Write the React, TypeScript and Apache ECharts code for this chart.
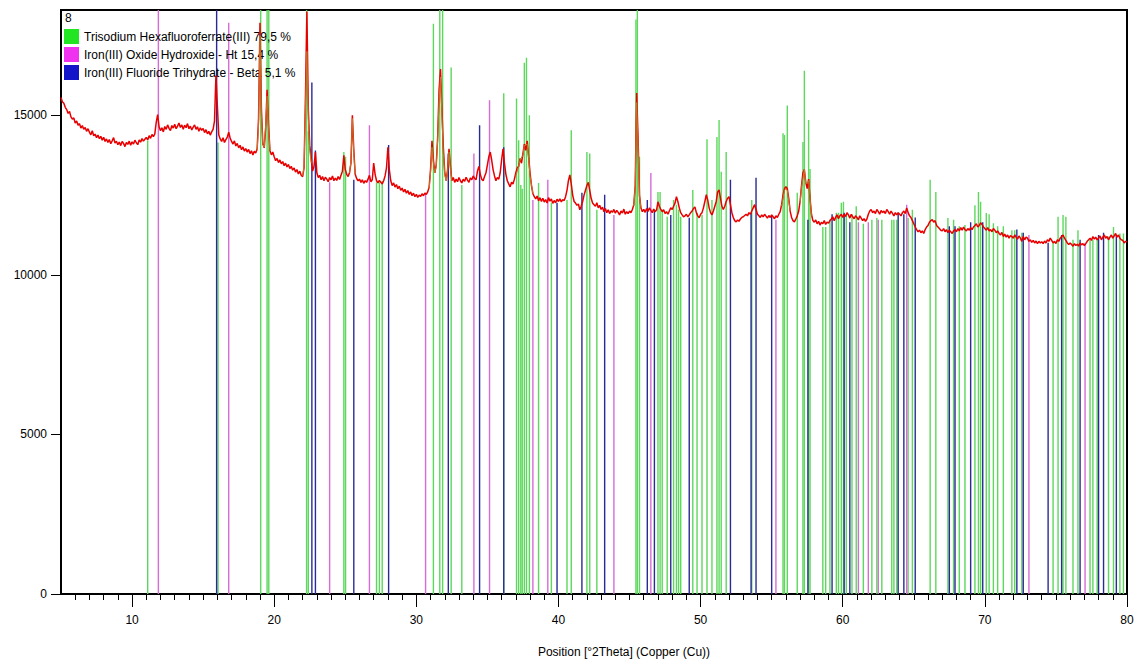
import React, { useEffect, useRef } from "react";
import * as echarts from "echarts";

// ---------- Data ----------
// Observed scan: 5.0 .. 80.0 °2Theta, step 0.1
const scanStart = 5;
const scanStep = 0.1;
const observedCounts: number[] = [
  // 5
  15560, 15420, 15380, 15250, 15180, 15060, 15120, 14950, 14880, 14920,
  // 6
  14760, 14820, 14690, 14740, 14600, 14680, 14560, 14620, 14500, 14580,
  // 7
  14470, 14390, 14520, 14360, 14410, 14300, 14380, 14270, 14340, 14220,
  // 8
  14310, 14180, 14260, 14150, 14240, 14110, 14200, 14300, 14130, 14190,
  // 9
  14080, 14160, 14050, 14180, 14120, 14020, 14150, 14090, 14190, 14060,
  // 10
  14170, 14100, 14220, 14140, 14080, 14230, 14160, 14270, 14190, 14250,
  // 11
  14310, 14230, 14360, 14280, 14400, 14330, 14420, 14780, 15020, 14640,
  // 12
  14520, 14610, 14480, 14650, 14560, 14700, 14590, 14520, 14680, 14600,
  // 13
  14720, 14580, 14660, 14760, 14620, 14700, 14560, 14690, 14610, 14740,
  // 14
  14580, 14660, 14540, 14630, 14700, 14560, 14640, 14500, 14610, 14530,
  // 15
  14590, 14460, 14550, 14420, 14500, 14380, 14480, 14560, 14820, 16250,
  // 16
  15300, 14380, 14260, 14180, 14300, 14150, 14240, 14320, 14470, 14290,
  // 17
  14180, 14100, 14200, 14040, 14120, 13980, 14060, 13920, 14010, 13880,
  // 18
  13960, 13850, 13930, 13800, 13890, 13760, 13870, 13820, 13950, 14900,
  // 19
  17900, 15200, 14100, 13980, 14600, 15800, 14700, 13900, 13760, 13850,
  // 20
  13700, 13580, 13650, 13520, 13600, 13480, 13550, 13420, 13500, 13380,
  // 21
  13460, 13330, 13400, 13280, 13350, 13220, 13300, 13160, 13250, 13120,
  // 22
  13080, 13350, 15600, 18250, 15200, 14050, 13700, 13250, 13400, 13850,
  // 23
  13200, 13050, 13120, 12980, 13080, 12950, 13060, 13000, 12920, 13050,
  // 24
  12980, 13100, 12950, 13030, 12960, 13080, 12990, 13120, 13250, 13750,
  // 25
  13300, 13150, 13080, 13200, 13500, 15000, 13900, 13150, 13020, 12950,
  // 26
  13000, 12900, 12980, 12870, 12950, 12900, 13000, 13120, 12920, 12980,
  // 27
  13500, 13150, 12950, 12880, 12960, 12900, 12850, 12950, 13100, 13350,
  // 28
  14000, 13300, 12950, 12800, 12880, 12750, 12830, 12700, 12780, 12650,
  // 29
  12720, 12600, 12680, 12560, 12640, 12520, 12600, 12480, 12560, 12450,
  // 30
  12520, 12430, 12500, 12460, 12540, 12480, 12560, 12520, 12600, 12750,
  // 31
  13300, 14200, 13600, 13200, 13450, 14300, 15800, 16450, 15200, 14000,
  // 32
  13200, 12950, 13300, 13950, 13400, 12950, 13050, 12900, 13000, 12920,
  // 33
  13050, 12950, 12880, 13000, 12930, 13060, 12970, 12900, 13040, 12980,
  // 34
  13100, 13020, 12980, 13250, 13400, 13150, 13000, 12950, 13080, 13200,
  // 35
  13450, 13700, 13850, 13600, 13300, 13100, 12950, 13050, 13000, 13200,
  // 36
  13600, 13950, 13500, 13150, 12950, 12850, 12760, 12900, 12850, 13000,
  // 37
  13200, 13350, 13400, 13650, 13500, 13800, 14100, 13900, 14200, 13700,
  // 38
  13200, 12800, 12550, 12450, 12380, 12470, 12320, 12420, 12300, 12400,
  // 39
  12280, 12360, 12250, 12420, 12310, 12380, 12240, 12330, 12260, 12370,
  // 40
  12300, 12380, 12290, 12360, 12330, 12450, 12650, 12950, 13130, 12850,
  // 41
  12500, 12300, 12250, 12180, 12220, 12040, 12150, 12300, 12500, 12650,
  // 42
  12800, 12900, 12650, 12400, 12250, 12200, 12150, 12260, 12100, 12180,
  // 43
  12050, 12120, 11980, 12080, 11950, 12040, 11920, 12010, 11960, 12050,
  // 44
  11930, 12020, 11960, 11880, 12000, 11940, 12060, 11900, 11980, 11920,
  // 45
  12000, 11950, 12050, 12200, 12800, 15700, 14300, 12500, 12100, 11980,
  // 46
  12050, 11960, 12080, 11990, 12100, 12020, 11950, 12060, 11980, 12030,
  // 47
  12290, 12150, 12050, 11980, 12040, 11920, 11980, 11900, 12000, 12100,
  // 48
  12050, 12150, 12250, 12450, 12300, 12100, 11950, 11880, 11820, 11850,
  // 49
  11900, 11820, 11880, 11950, 12000, 12080, 12130, 11950, 11850, 11790,
  // 50
  11900, 11950, 12100, 12300, 12510, 12350, 12100, 11950, 11880, 12000,
  // 51
  12150, 12300, 12600, 12660, 12400, 12150, 12050, 12150, 12300, 12400,
  // 52
  12450, 12200, 11950, 11800, 11700, 11660, 11720, 11680, 11750, 11800,
  // 53
  11820, 11860, 11900, 11850, 11950, 11900, 12000, 12100, 12200, 12050,
  // 54
  11900, 11850, 11800, 11880, 11820, 11900, 11840, 11780, 11860, 11800,
  // 55
  11880, 11820, 11760, 11850, 11800, 11900, 11980, 12200, 12500, 12700,
  // 56
  12760, 12700, 12400, 12000, 11800, 11700, 11660, 11750, 11850, 12000,
  // 57
  12300, 12800, 13200, 13300, 12900, 12700, 13000, 12400, 11900, 11700,
  // 58
  11650, 11720, 11600, 11680, 11560, 11650, 11600, 11700, 11580, 11650,
  // 59
  11620, 11700, 11750, 11820, 11700, 11800, 11880, 11760, 11850, 11900,
  // 60
  11800, 11900, 11830, 11950, 11880, 11780, 11900, 11820, 11760, 11850,
  // 61
  11800, 11720, 11850, 11780, 11700, 11760, 11680, 11750, 11900, 12000,
  // 62
  12050, 11950, 12000, 11920, 12050, 11980, 11900, 12020, 11950, 12000,
  // 63
  11920, 12050, 11980, 11900, 12000, 11930, 11850, 11950, 11880, 11950,
  // 64
  11900, 11850, 11950, 12000, 11920, 12100, 11950, 11850, 11800, 11700,
  // 65
  11600, 11500, 11420, 11350, 11400, 11320, 11380, 11300, 11420, 11500,
  // 66
  11550, 11650, 11700, 11730, 11650, 11700, 11550, 11500, 11450, 11400,
  // 67
  11380, 11450, 11350, 11420, 11320, 11400, 11350, 11300, 11380, 11420,
  // 68
  11350, 11450, 11380, 11480, 11400, 11500, 11420, 11380, 11450, 11400,
  // 69
  11480, 11420, 11500, 11550, 11600, 11500, 11550, 11630, 11580, 11500,
  // 70
  11450, 11400, 11480, 11380, 11420, 11350, 11450, 11400, 11320, 11380,
  // 71
  11300, 11250, 11330, 11200, 11280, 11180, 11250, 11150, 11230, 11200,
  // 72
  11150, 11250, 11180, 11120, 11220, 11150, 11050, 11200, 11100, 11180,
  // 73
  11150, 11050, 11100, 11020, 11080, 11000, 11060, 10980, 11050, 11000,
  // 74
  11040, 10980, 11060, 11000, 11100, 11050, 11150, 11080, 11000, 11050,
  // 75
  10980, 11100, 11050, 11150, 11200, 11250, 11150, 11080, 11000, 10950,
  // 76
  11000, 10950, 10900, 10980, 10920, 10960, 10900, 11000, 10940, 10980,
  // 77
  10920, 10980, 11050, 11100, 11150, 11080, 11200, 11120, 11180, 11100,
  // 78
  11150, 11220, 11100, 11180, 11250, 11150, 11200, 11100, 11180, 11250,
  // 79
  11150, 11220, 11300, 11180, 11250, 11150, 11100, 11080, 11000, 11050,
  // 80
  11040,
];

// Calculated profile near the strong peaks
const calcPeak19: number[][] = [[18.8, 13900], [18.9, 14700], [19.0, 17500], [19.1, 15000], [19.2, 14100], [19.3, 14000], [19.4, 14700], [19.5, 15600], [19.6, 14600], [19.7, 13900]];
const calcPeak22: number[][] = [[22.0, 13100], [22.1, 13400], [22.2, 15300], [22.3, 17000], [22.4, 14900], [22.5, 13900], [22.6, 13500]];
const calcPeak25: number[][] = [[25.3, 13200], [25.4, 13550], [25.5, 14900], [25.6, 13800], [25.7, 13150]];
const calcPeak31: number[][] = [[30.9, 12700], [31.0, 13200], [31.1, 14000], [31.2, 13500], [31.3, 13200], [31.4, 13400], [31.5, 14200], [31.6, 15500], [31.7, 16200], [31.8, 15000], [31.9, 13800], [32.0, 13150], [32.1, 12950], [32.2, 13250], [32.3, 13850], [32.4, 13300], [32.5, 12950]];
const calcPeak37: number[][] = [[37.0, 13100], [37.2, 13400], [37.3, 13600], [37.5, 13750], [37.6, 14050], [37.8, 14100], [37.9, 13650], [38.0, 13100], [38.2, 12550]];
const calcPeak45: number[][] = [[45.3, 12150], [45.4, 12750], [45.5, 15400], [45.6, 14100], [45.7, 12450], [45.8, 12100]];
const calcPeak56: number[][] = [[55.7, 12150], [55.9, 12650], [56.0, 12700], [56.1, 12650], [56.3, 12000]];
const calcPeak57: number[][] = [[57.0, 12250], [57.1, 12750], [57.3, 13300], [57.4, 12850], [57.6, 12950], [57.8, 11850]];

// Reference patterns: [position °2Theta, drawn height]
const trisodiumLines: number[][] = [
  [11.1, 14200], [16.05, 14150], [19.05, 18300], [19.5, 18300], [19.62, 18300],
  [22.28, 18300], [22.4, 14500], [24.9, 13850], [25.02, 13700],
  [27.2, 12900], [27.4, 12900], [27.6, 12950],
  [31.2, 17870], [31.65, 18300], [31.85, 18300], [32.45, 16500], [33.2, 12820],
  [36.15, 15690], [37.05, 15530], [37.2, 14220], [37.35, 12820], [37.45, 12700],
  [37.6, 16650], [37.75, 16800], [37.95, 15000],
  [38.6, 12880], [39.5, 12260], [40.6, 12350], [40.9, 14530], [42.0, 13850], [42.2, 13800], [42.7, 12040],
  [45.45, 18000], [45.55, 18300], [45.7, 13700],
  [47.0, 12600], [47.15, 12600], [47.3, 12040], [47.65, 11820], [48.1, 12350], [48.3, 12200], [48.45, 12050], [48.6, 11820],
  [49.45, 12660], [49.75, 11950], [50.1, 11880], [50.45, 14250], [50.8, 12350], [51.15, 14320], [51.3, 14850], [51.45, 13230], [51.8, 13850],
  [53.6, 12350],
  [55.8, 14440], [55.9, 14380], [56.1, 15310], [56.8, 12570], [57.2, 14160], [57.3, 16400], [57.6, 14850], [57.7, 13320],
  [58.6, 11500], [58.8, 11500], [59.1, 11730], [59.55, 11950], [59.7, 11950], [59.9, 12260], [60.05, 12290], [60.25, 11870],
  [60.65, 11900], [60.95, 12150], [61.45, 11600], [62.05, 11730], [62.4, 11780], [62.75, 11730], [63.45, 11730], [63.6, 11730],
  [63.8, 11730], [64.6, 11780], [64.9, 12040],
  [66.15, 12980], [66.55, 12600], [67.4, 11780], [67.8, 11730], [68.2, 11520], [68.6, 11560], [69.3, 12180], [69.55, 12600],
  [69.7, 12290], [70.1, 11940], [70.3, 11900], [70.6, 11620], [70.9, 11520], [71.3, 11520], [71.9, 11400], [72.1, 11400], [72.6, 11320],
  [74.8, 11010], [75.15, 11820], [75.5, 11880], [75.7, 11820], [76.2, 11100], [76.55, 11400], [77.4, 11100], [77.6, 11100],
  [77.9, 11100], [78.7, 11200], [79.05, 11500], [79.5, 11300], [79.75, 11300],
];

const oxideHydroxideLines: number[][] = [
  [11.85, 18300], [16.8, 17900], [23.9, 12900], [26.7, 14690], [30.65, 12570], [34.05, 13800], [35.15, 15470],
  [38.2, 12350], [39.25, 12980], [43.9, 11880], [46.5, 13190], [55.3, 11730], [61.1, 11650], [61.8, 11650],
  [62.5, 11730], [64.5, 12200], [73.1, 11250], [77.05, 11010],
];

const fluorideTrihydrateLines: number[][] = [
  [15.95, 18300], [22.65, 16030], [22.9, 13900], [25.6, 12980], [28.05, 14070], [32.25, 13800], [34.45, 14690],
  [36.15, 14000], [39.9, 12260], [41.65, 12570], [43.25, 12510], [46.25, 12350], [46.75, 12040], [47.9, 11880],
  [49.2, 11790], [52.1, 12980], [53.55, 11950], [53.9, 13040], [55.0, 11880], [57.55, 11730], [59.25, 11900],
  [60.1, 11950], [60.5, 11650], [63.9, 11950], [64.3, 11900], [65.1, 11800], [67.5, 11520], [67.9, 11520],
  [69.0, 11650], [69.85, 11650], [72.25, 11420], [72.7, 11320], [74.45, 11010], [75.4, 11250], [76.7, 11100],
  [78.0, 11250], [78.35, 11320], [79.25, 11250],
];

const phaseNames = [
  "Trisodium Hexafluoroferrate(III) 79,5 %",
  "Iron(III) Oxide Hydroxide - Ht 15,4 %",
  "Iron(III) Fluoride Trihydrate - Beta 5,1 %",
];

const xMajorTicks = [10, 20, 30, 40, 50, 60, 70, 80];
const yTicks = [0, 5000, 10000, 15000];

// ---------- Chart ----------
const FONT = "'Liberation Sans', Arial, sans-serif";

function stickSeries(name: string, data: number[][], lineColor: string, legendColor: string) {
  return {
    name,
    type: "custom",
    data,
    clip: true,
    z: 2,
    itemStyle: { color: legendColor },
    encode: { x: 0, y: 1 },
    renderItem: (params: any, api: any) => {
      const x = api.value(0);
      const h = api.value(1);
      const top = api.coord([x, h]);
      const bottom = api.coord([x, 0]);
      return {
        type: "line",
        shape: { x1: top[0], y1: bottom[1], x2: top[0], y2: top[1] },
        style: { stroke: lineColor, lineWidth: 1.4 },
        silent: true,
      };
    },
  };
}

export default function App() {
  const ref = useRef<HTMLDivElement>(null);

  useEffect(() => {
    if (!ref.current) return;
    const chart = echarts.init(ref.current, undefined, { renderer: "svg" });

    const observedPoints = observedCounts.map((y, i) => [
      Math.round((scanStart + i * scanStep) * 10) / 10,
      y,
    ]);
    const minorTicks: number[] = [];
    for (let v = 6; v < 80; v++) if (v % 10 !== 0) minorTicks.push(v);

    const calcSegments = [calcPeak19, calcPeak22, calcPeak25, calcPeak31, calcPeak37, calcPeak45, calcPeak56, calcPeak57];

    const legendColors = ["#22e622", "#f032f0", "#1414c8"];

    chart.setOption({
      animation: false,
      backgroundColor: "#ffffff",
      grid: {
        left: 61,
        right: 13,
        top: 10,
        bottom: 67,
        show: true,
        borderColor: "#000",
        borderWidth: 2,
        backgroundColor: "transparent",
      },
      legend: {
        show: true,
        orient: "vertical",
        left: 64,
        top: 29,
        padding: 0,
        itemGap: 3,
        itemWidth: 15,
        itemHeight: 15,
        icon: "rect",
        selectedMode: false,
        textStyle: { fontFamily: FONT, fontSize: 12, color: "#000" },
        data: phaseNames.map((n, i) => ({ name: n, itemStyle: { color: legendColors[i], borderWidth: 0 } })),
      },
      graphic: [
        {
          type: "text",
          left: 65,
          top: 12,
          style: { text: "8", font: `12px ${FONT}`, fill: "#000" },
          z: 100,
        },
      ],
      xAxis: [
        {
          type: "value",
          min: 5,
          max: 80,
          name: "Position [°2Theta] (Copper (Cu))",
          nameLocation: "middle",
          nameGap: 52,
          nameTextStyle: { fontFamily: FONT, fontSize: 12, color: "#000", padding: [0, 0, 0, 60] },
          axisLine: { show: true, lineStyle: { color: "#000", width: 2 } },
          axisTick: { show: true, customValues: xMajorTicks, length: 13, lineStyle: { color: "#000", width: 1 } },
          axisLabel: { show: true, customValues: xMajorTicks, margin: 20, fontFamily: FONT, fontSize: 12, color: "#000", formatter: (v: number) => String(v) },
          splitLine: { show: false },
        },
        {
          type: "value",
          min: 5,
          max: 80,
          gridIndex: 0,
          position: "bottom",
          axisLine: { show: false },
          axisTick: { show: true, customValues: minorTicks, length: 6, lineStyle: { color: "#000", width: 1 } },
          axisLabel: { show: false },
          splitLine: { show: false },
        },
      ],
      yAxis: {
        type: "value",
        min: 0,
        max: 18300,
        axisLine: { show: true, lineStyle: { color: "#000", width: 2 } },
        axisTick: { show: true, customValues: yTicks, length: 10, lineStyle: { color: "#000", width: 1 } },
        axisLabel: { show: true, customValues: yTicks, margin: 14, fontFamily: FONT, fontSize: 12, color: "#000", formatter: (v: number) => String(v) },
        splitLine: { show: false },
      },
      series: [
        stickSeries(phaseNames[0], trisodiumLines, "#5cd85c", legendColors[0]),
        stickSeries(phaseNames[1], oxideHydroxideLines, "#d66cd6", legendColors[1]),
        stickSeries(phaseNames[2], fluorideTrihydrateLines, "#2a2a96", legendColors[2]),
        {
          name: "observed",
          type: "line",
          data: observedPoints,
          showSymbol: false,
          clip: true,
          z: 5,
          lineStyle: { color: "#e80000", width: 1.5 },
          silent: true,
        },
        ...calcSegments.map((seg) => ({
          name: "calc",
          type: "line",
          data: seg,
          showSymbol: false,
          clip: true,
          z: 6,
          lineStyle: { color: "#c07a28", width: 1 },
          silent: true,
        })),
      ],
    });

    return () => chart.dispose();
  }, []);

  return (
    <div
      ref={ref}
      style={{ position: "absolute", left: 0, top: 0, width: 1140, height: 663, background: "#fff" }}
    />
  );
}
